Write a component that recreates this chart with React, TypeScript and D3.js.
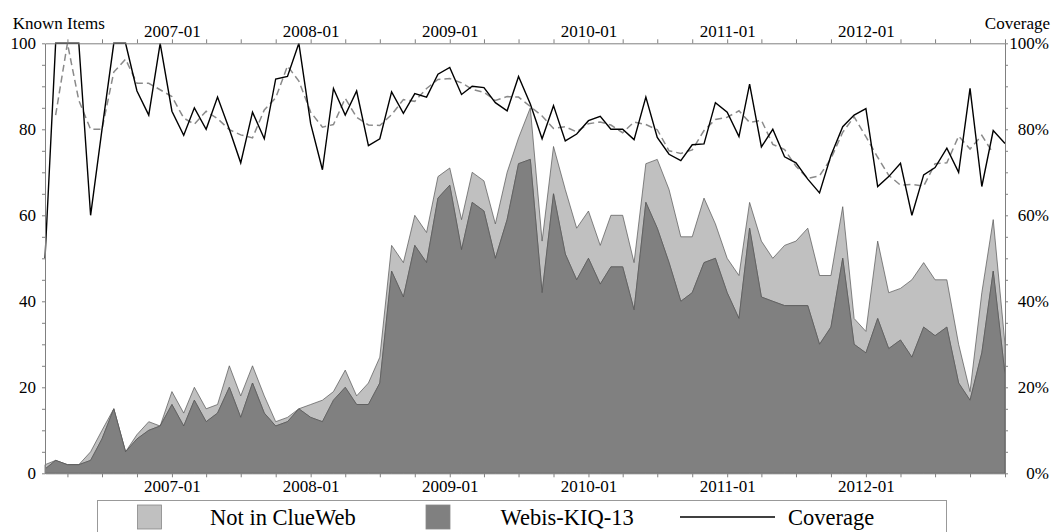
import React, { useRef, useEffect } from 'react';
import * as d3 from 'd3';

// monthly counts, 2006-02 .. 2013-01
const startMonth = new Date(2006, 1, 1);
const endMonth = new Date(2013, 0, 1);

const webisKiq13 = [
  1, 3, 2, 2, 3, 8, 15, 5, 8, 10, 11, 16, 11, 17, 12, 14, 20, 13, 21, 14,
  11, 12, 15, 13, 12, 17, 20, 16, 16, 21, 47, 41, 53, 49, 64, 67, 52, 63, 61, 50,
  59, 72, 73, 42, 65, 51, 45, 50, 44, 48, 48, 38, 63, 57, 49, 40, 42, 49, 50, 42,
  36, 57, 41, 40, 39, 39, 39, 30, 34, 50, 30, 28, 36, 29, 31, 27, 34, 32, 34, 21,
  17, 28, 47, 23,
];

const notInClueWeb = [
  1, 0, 0, 0, 2, 2, 0, 0, 1, 2, 0, 3, 3, 3, 3, 2, 5, 5, 4, 4,
  1, 1, 0, 3, 5, 2, 4, 2, 5, 6, 6, 8, 7, 7, 5, 4, 7, 7, 7, 8,
  11, 6, 12, 12, 11, 15, 12, 11, 9, 12, 12, 11, 9, 16, 17, 15, 13, 15, 8, 8,
  10, 6, 13, 10, 14, 15, 18, 16, 12, 12, 6, 5, 18, 13, 12, 18, 15, 13, 11, 9,
  2, 14, 12, 7,
];

// coverage in percent
const coverage = [
  50, 100, 100, 100, 60, 80, 100, 100, 88.9, 83.3, 100, 84.2, 78.6, 85, 80, 87.5, 80, 72.2, 84, 77.8,
  91.7, 92.3, 100, 81.3, 70.6, 89.5, 83.3, 88.9, 76.2, 77.8, 88.7, 83.7, 88.3, 87.5, 92.8, 94.4, 88.1, 90, 89.7, 86.2,
  84.3, 92.3, 85.9, 77.8, 85.5, 77.3, 78.9, 82, 83, 80, 80, 77.6, 87.5, 78.1, 74.2, 72.7, 76.4, 76.6, 86.2, 84,
  78.3, 90.5, 75.9, 80, 73.6, 72.2, 68.4, 65.2, 73.9, 80.6, 83.3, 84.8, 66.7, 69, 72.1, 60, 69.4, 71.1, 75.6, 70,
  89.5, 66.7, 79.7, 76.7,
];

// smoothed coverage (dashed), no value at both ends
const coverageTrend = [
  null, 83.3, 100, 86.7, 80, 80, 93.3, 96.3, 90.7, 90.7, 89.2, 87.6, 82.6, 81.2, 84.2, 82.5, 79.9, 78.7, 78, 84.5,
  87.3, 94.7, 91.2, 84, 80.5, 81.1, 87.2, 82.8, 81, 80.9, 83.4, 86.9, 86.5, 89.5, 91.6, 91.8, 90.8, 89.3, 88.6, 86.7,
  87.6, 87.5, 85.3, 83.1, 80.2, 80.6, 79.4, 81.3, 81.7, 81, 79.2, 81.7, 81.1, 79.9, 75, 74.4, 75.2, 79.7, 82.3, 82.8,
  84.3, 81.6, 82.1, 76.5, 75.3, 71.4, 68.6, 69.2, 73.2, 79.3, 82.9, 78.3, 73.5, 69.3, 67, 67.2, 66.8, 72, 72.2, 78.4,
  75.4, 78.6, 74.4, null,
];

const seriesNames = ['Webis-KIQ-13', 'Not in ClueWeb'];

const App = () => {
  const chart = useRef(null);

  useEffect(() => {
    d3.select(chart.current).selectAll('*').remove();

    const width = 1052;
    const height = 532;
    const left = 45;
    const right = 1005;
    const top = 43.3;
    const bottom = 473.3;
    const font = '"Liberation Serif", "Times New Roman", serif';
    const axisColor = '#808080';

    const svg = d3
      .select(chart.current)
      .append('svg')
      .attr('width', width)
      .attr('height', height)
      .style('position', 'absolute')
      .style('left', 0)
      .style('top', 0)
      .style('background', '#fff')
      .style('font-family', font);

    const months = d3.timeMonth.range(startMonth, d3.timeMonth.offset(endMonth, 1));
    const data = months.map((m, i) => ({
      date: m,
      webis: webisKiq13[i],
      missing: notInClueWeb[i],
      coverage: coverage[i],
      trend: coverageTrend[i],
    }));

    const x = d3.scaleTime().domain([startMonth, endMonth]).range([left, right]);
    const y = d3.scaleLinear().domain([0, 100]).range([bottom, top]);
    const yPct = d3.scaleLinear().domain([0, 1]).range([bottom, top]);

    // stacked areas
    const stack = d3.stack().keys(['webis', 'missing'])(data);
    const area = d3
      .area()
      .x((d) => x(d.data.date))
      .y0((d) => y(d[0]))
      .y1((d) => y(d[1]));
    const fills = ['#808080', '#c0c0c0'];

    svg
      .append('g')
      .selectAll('path')
      .data(stack.slice().reverse())
      .enter()
      .append('path')
      .attr('d', area)
      .attr('fill', (d) => fills[d.index])
      .attr('stroke', '#555')
      .attr('stroke-width', 0.7);

    // coverage lines
    const trendLine = d3
      .line()
      .defined((d) => d.trend != null)
      .x((d) => x(d.date))
      .y((d) => y(d.trend));
    svg
      .append('path')
      .datum(data)
      .attr('d', trendLine)
      .attr('fill', 'none')
      .attr('stroke', '#8a8a8a')
      .attr('stroke-width', 1.5)
      .attr('stroke-dasharray', '7,4');

    const covLine = d3
      .line()
      .x((d) => x(d.date))
      .y((d) => y(d.coverage));
    svg
      .append('path')
      .datum(data)
      .attr('d', covLine)
      .attr('fill', 'none')
      .attr('stroke', '#000')
      .attr('stroke-width', 1.4)
      .attr('stroke-linejoin', 'miter');

    // axes
    const quarterTicks = d3.timeMonth.every(3).range(startMonth, d3.timeMonth.offset(endMonth, 1));
    const fmt = d3.timeFormat('%Y-%m');
    const monthLabel = (d) => (d.getMonth() === 0 && d < endMonth ? fmt(d) : '');

    const styleAxis = (g) => {
      g.select('.domain').attr('stroke', axisColor);
      g.selectAll('.tick line').attr('stroke', axisColor);
      g.selectAll('text').attr('font-family', font).attr('font-size', 17).attr('fill', '#000');
    };

    svg
      .append('g')
      .attr('transform', `translate(0, ${top})`)
      .call(d3.axisTop(x).tickValues(quarterTicks).tickFormat(monthLabel).tickSize(4).tickSizeOuter(0).tickPadding(2))
      .call(styleAxis);

    svg
      .append('g')
      .attr('transform', `translate(0, ${bottom})`)
      .call(d3.axisBottom(x).tickValues(quarterTicks).tickFormat(monthLabel).tickSize(4).tickSizeOuter(0).tickPadding(3))
      .call(styleAxis);

    svg
      .append('g')
      .attr('transform', `translate(${left}, 0)`)
      .call(
        d3
          .axisLeft(y)
          .tickValues(d3.range(0, 101, 5))
          .tickFormat((d) => (d % 20 === 0 ? d : ''))
          .tickSize(3)
          .tickSizeOuter(0)
          .tickPadding(6)
      )
      .call(styleAxis);

    const rightAxis = svg
      .append('g')
      .attr('transform', `translate(${right}, 0)`)
      .call(
        d3
          .axisRight(yPct)
          .tickValues(d3.range(0, 21).map((k) => k / 20))
          .tickFormat((d) => (Math.round(d * 100) % 20 === 0 ? d3.format('.0%')(d) : ''))
          .tickSize(3)
          .tickSizeOuter(0)
      )
      .call(styleAxis);
    rightAxis.selectAll('text').attr('text-anchor', 'end').attr('x', 44);

    // axis titles
    svg
      .append('text')
      .attr('x', 12.7)
      .attr('y', 29)
      .attr('font-size', 17)
      .text('Known Items');
    svg
      .append('text')
      .attr('x', 1050)
      .attr('y', 29)
      .attr('text-anchor', 'end')
      .attr('font-size', 17)
      .text('Coverage');

    // legend
    const legend = svg.append('g');
    legend
      .append('rect')
      .attr('x', 97.5)
      .attr('y', 500.5)
      .attr('width', 849)
      .attr('height', 45)
      .attr('fill', '#fff')
      .attr('stroke', '#999');

    const legendItems = [
      { label: seriesNames[1], fill: '#c0c0c0', box: 137.5, text: 210 },
      { label: seriesNames[0], fill: '#808080', box: 426, text: 500.5 },
    ];
    legendItems.forEach((it) => {
      legend
        .append('rect')
        .attr('x', it.box)
        .attr('y', 505)
        .attr('width', 24)
        .attr('height', 24)
        .attr('fill', it.fill)
        .attr('stroke', '#888')
        .attr('stroke-width', 0.8);
      legend
        .append('text')
        .attr('x', it.text)
        .attr('y', 525)
        .attr('font-size', 22.5)
        .text(it.label);
    });
    legend
      .append('line')
      .attr('x1', 680)
      .attr('x2', 775)
      .attr('y1', 517)
      .attr('y2', 517)
      .attr('stroke', '#000')
      .attr('stroke-width', 1.4);
    legend
      .append('text')
      .attr('x', 788)
      .attr('y', 525)
      .attr('font-size', 22.5)
      .text('Coverage');
  }, []);

  return <div ref={chart}></div>;
};

export default App;
